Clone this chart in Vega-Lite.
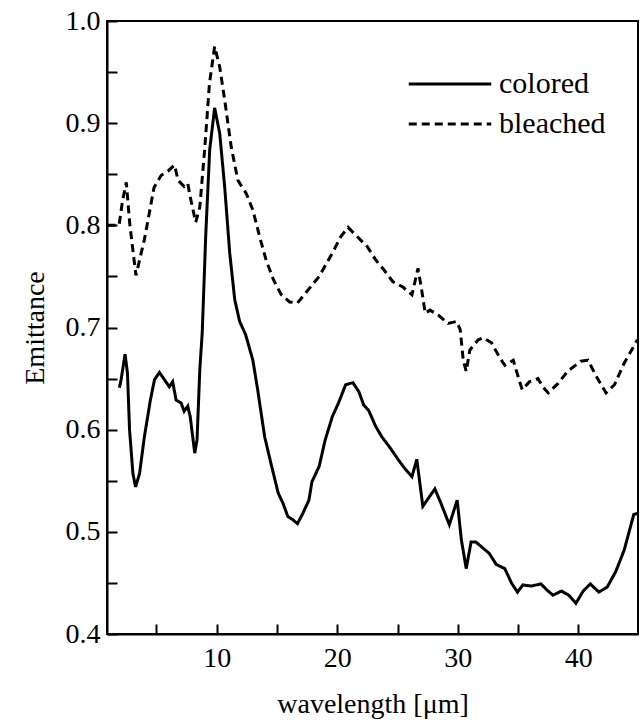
{
  "$schema": "https://vega.github.io/schema/vega-lite/v6.json",
  "width": 531,
  "height": 613,
  "autosize": {"type": "none"},
  "padding": {"left": 107, "top": 21, "right": 3, "bottom": 89},
  "background": "white",
  "config": {"view": {"stroke": "black", "strokeWidth": 2}, "font": "Liberation Serif"},
  "data": {"values": [
    {"s":"colored","x":1.93,"y":0.641},{"s":"colored","x":2.07,"y":0.649},{"s":"colored","x":2.4,"y":0.674},{"s":"colored","x":2.6,"y":0.655},{"s":"colored","x":2.77,"y":0.600},{"s":"colored","x":3.05,"y":0.557},{"s":"colored","x":3.27,"y":0.544},{"s":"colored","x":3.6,"y":0.557},{"s":"colored","x":4.0,"y":0.593},{"s":"colored","x":4.5,"y":0.629},{"s":"colored","x":4.84,"y":0.649},{"s":"colored","x":5.25,"y":0.656},{"s":"colored","x":5.66,"y":0.649},{"s":"colored","x":6.07,"y":0.642},{"s":"colored","x":6.35,"y":0.647},{"s":"colored","x":6.63,"y":0.629},{"s":"colored","x":7.05,"y":0.626},{"s":"colored","x":7.3,"y":0.618},{"s":"colored","x":7.6,"y":0.623},{"s":"colored","x":7.8,"y":0.613},{"s":"colored","x":8.18,"y":0.577},{"s":"colored","x":8.37,"y":0.590},{"s":"colored","x":8.6,"y":0.659},{"s":"colored","x":8.8,"y":0.695},{"s":"colored","x":9.1,"y":0.793},{"s":"colored","x":9.42,"y":0.874},{"s":"colored","x":9.83,"y":0.915},{"s":"colored","x":10.25,"y":0.890},{"s":"colored","x":10.66,"y":0.838},{"s":"colored","x":11.08,"y":0.773},{"s":"colored","x":11.5,"y":0.727},{"s":"colored","x":11.9,"y":0.706},{"s":"colored","x":12.4,"y":0.693},{"s":"colored","x":13.0,"y":0.668},{"s":"colored","x":13.4,"y":0.639},{"s":"colored","x":13.98,"y":0.593},{"s":"colored","x":14.5,"y":0.567},{"s":"colored","x":15.1,"y":0.538},{"s":"colored","x":15.5,"y":0.528},{"s":"colored","x":15.9,"y":0.515},{"s":"colored","x":16.3,"y":0.512},{"s":"colored","x":16.7,"y":0.508},{"s":"colored","x":17.1,"y":0.517},{"s":"colored","x":17.65,"y":0.531},{"s":"colored","x":17.9,"y":0.549},{"s":"colored","x":18.5,"y":0.564},{"s":"colored","x":19.0,"y":0.590},{"s":"colored","x":19.6,"y":0.613},{"s":"colored","x":20.1,"y":0.626},{"s":"colored","x":20.7,"y":0.644},{"s":"colored","x":21.3,"y":0.646},{"s":"colored","x":21.8,"y":0.637},{"s":"colored","x":22.2,"y":0.624},{"s":"colored","x":22.6,"y":0.619},{"s":"colored","x":23.2,"y":0.603},{"s":"colored","x":23.7,"y":0.593},{"s":"colored","x":24.4,"y":0.582},{"s":"colored","x":25.1,"y":0.570},{"s":"colored","x":25.6,"y":0.562},{"s":"colored","x":26.2,"y":0.554},{"s":"colored","x":26.6,"y":0.571},{"s":"colored","x":27.1,"y":0.525},{"s":"colored","x":28.1,"y":0.542},{"s":"colored","x":28.6,"y":0.528},{"s":"colored","x":29.3,"y":0.507},{"s":"colored","x":29.95,"y":0.531},{"s":"colored","x":30.3,"y":0.492},{"s":"colored","x":30.7,"y":0.464},{"s":"colored","x":31.1,"y":0.490},{"s":"colored","x":31.5,"y":0.490},{"s":"colored","x":32.1,"y":0.484},{"s":"colored","x":32.6,"y":0.479},{"s":"colored","x":33.2,"y":0.468},{"s":"colored","x":33.9,"y":0.464},{"s":"colored","x":34.45,"y":0.450},{"s":"colored","x":34.95,"y":0.441},{"s":"colored","x":35.4,"y":0.448},{"s":"colored","x":36.1,"y":0.447},{"s":"colored","x":36.9,"y":0.449},{"s":"colored","x":37.4,"y":0.443},{"s":"colored","x":37.9,"y":0.438},{"s":"colored","x":38.6,"y":0.442},{"s":"colored","x":39.2,"y":0.438},{"s":"colored","x":39.8,"y":0.430},{"s":"colored","x":40.4,"y":0.442},{"s":"colored","x":41.0,"y":0.449},{"s":"colored","x":41.7,"y":0.441},{"s":"colored","x":42.4,"y":0.446},{"s":"colored","x":43.1,"y":0.461},{"s":"colored","x":43.8,"y":0.482},{"s":"colored","x":44.6,"y":0.517},{"s":"colored","x":44.9,"y":0.518},
    {"s":"bleached","x":0.95,"y":0.800},{"s":"bleached","x":1.9,"y":0.800},{"s":"bleached","x":2.2,"y":0.825},{"s":"bleached","x":2.5,"y":0.842},{"s":"bleached","x":2.8,"y":0.800},{"s":"bleached","x":3.3,"y":0.751},{"s":"bleached","x":4.0,"y":0.786},{"s":"bleached","x":4.8,"y":0.837},{"s":"bleached","x":5.4,"y":0.849},{"s":"bleached","x":5.95,"y":0.853},{"s":"bleached","x":6.5,"y":0.859},{"s":"bleached","x":6.8,"y":0.844},{"s":"bleached","x":7.3,"y":0.838},{"s":"bleached","x":7.6,"y":0.841},{"s":"bleached","x":7.8,"y":0.828},{"s":"bleached","x":8.26,"y":0.803},{"s":"bleached","x":8.6,"y":0.818},{"s":"bleached","x":9.0,"y":0.874},{"s":"bleached","x":9.4,"y":0.939},{"s":"bleached","x":9.83,"y":0.975},{"s":"bleached","x":10.25,"y":0.955},{"s":"bleached","x":10.66,"y":0.923},{"s":"bleached","x":11.2,"y":0.877},{"s":"bleached","x":11.76,"y":0.844},{"s":"bleached","x":12.46,"y":0.831},{"s":"bleached","x":13.0,"y":0.815},{"s":"bleached","x":13.56,"y":0.789},{"s":"bleached","x":14.1,"y":0.766},{"s":"bleached","x":14.7,"y":0.747},{"s":"bleached","x":15.36,"y":0.732},{"s":"bleached","x":16.05,"y":0.725},{"s":"bleached","x":16.7,"y":0.724},{"s":"bleached","x":17.4,"y":0.734},{"s":"bleached","x":18.5,"y":0.750},{"s":"bleached","x":19.6,"y":0.773},{"s":"bleached","x":20.3,"y":0.789},{"s":"bleached","x":20.9,"y":0.798},{"s":"bleached","x":21.65,"y":0.789},{"s":"bleached","x":22.5,"y":0.779},{"s":"bleached","x":23.2,"y":0.766},{"s":"bleached","x":23.9,"y":0.756},{"s":"bleached","x":24.6,"y":0.745},{"s":"bleached","x":25.4,"y":0.740},{"s":"bleached","x":26.2,"y":0.732},{"s":"bleached","x":26.7,"y":0.758},{"s":"bleached","x":27.0,"y":0.737},{"s":"bleached","x":27.3,"y":0.714},{"s":"bleached","x":27.7,"y":0.717},{"s":"bleached","x":28.4,"y":0.712},{"s":"bleached","x":29.2,"y":0.704},{"s":"bleached","x":29.9,"y":0.706},{"s":"bleached","x":30.2,"y":0.698},{"s":"bleached","x":30.45,"y":0.668},{"s":"bleached","x":30.7,"y":0.657},{"s":"bleached","x":31.0,"y":0.678},{"s":"bleached","x":31.7,"y":0.688},{"s":"bleached","x":32.1,"y":0.690},{"s":"bleached","x":32.8,"y":0.685},{"s":"bleached","x":33.5,"y":0.670},{"s":"bleached","x":33.9,"y":0.663},{"s":"bleached","x":34.6,"y":0.668},{"s":"bleached","x":35.0,"y":0.652},{"s":"bleached","x":35.35,"y":0.639},{"s":"bleached","x":35.96,"y":0.647},{"s":"bleached","x":36.65,"y":0.650},{"s":"bleached","x":37.05,"y":0.642},{"s":"bleached","x":37.5,"y":0.636},{"s":"bleached","x":38.3,"y":0.645},{"s":"bleached","x":39.1,"y":0.657},{"s":"bleached","x":40.2,"y":0.667},{"s":"bleached","x":40.8,"y":0.668},{"s":"bleached","x":41.5,"y":0.652},{"s":"bleached","x":42.3,"y":0.636},{"s":"bleached","x":43.0,"y":0.644},{"s":"bleached","x":43.8,"y":0.665},{"s":"bleached","x":44.9,"y":0.688}
  ]},
  "mark": {"type": "line", "strokeWidth": 3, "color": "black", "clip": true, "strokeCap": "butt"},
  "encoding": {
    "x": {
      "field": "x", "type": "quantitative",
      "scale": {"domain": [0.9, 44.95], "nice": false, "zero": false},
      "axis": {
        "values": [5, 10, 15, 20, 25, 30, 35, 40],
        "labelExpr": "datum.value % 10 == 0 ? datum.label : ''",
        "ticks": true,
        "tickSize": -10,
        "encode": {"ticks": {"update": {"y2": {"signal": "datum.value % 10 === 0 ? -10 : -5"}}}},
        "tickColor": "black", "tickWidth": 2,
        "domainColor": "black", "domainWidth": 2,
        "labelFontSize": 28, "labelFont": "Liberation Serif", "labelColor": "black",
        "labelPadding": 20, "labelFlush": false, "labelOverlap": false,
        "title": "wavelength [μm]", "titleFontSize": 28, "titleFont": "Liberation Serif",
        "titleFontWeight": "normal", "titleColor": "black", "titlePadding": 18,
        "grid": false
      }
    },
    "y": {
      "field": "y", "type": "quantitative",
      "scale": {"domain": [0.4, 1.0], "nice": false, "zero": false},
      "axis": {
        "values": [0.4, 0.45, 0.5, 0.55, 0.6, 0.65, 0.7, 0.75, 0.8, 0.85, 0.9, 0.95, 1.0],
        "labelExpr": "abs(datum.value*10 - round(datum.value*10)) < 0.001 ? format(datum.value, '.1f') : ''",
        "ticks": true,
        "tickSize": -10,
        "encode": {"ticks": {"update": {"x2": {"signal": "abs(datum.value*10 - round(datum.value*10)) < 0.001 ? 10 : 5"}}}},
        "tickColor": "black", "tickWidth": 2,
        "domainColor": "black", "domainWidth": 2,
        "labelFontSize": 28, "labelFont": "Liberation Serif", "labelColor": "black",
        "labelPadding": 17, "labelFlush": false, "labelOverlap": false,
        "title": "Emittance", "titleFontSize": 28, "titleFont": "Liberation Serif",
        "titleFontWeight": "normal", "titleColor": "black", "titlePadding": 16,
        "grid": false
      }
    },
    "strokeDash": {
      "field": "s", "type": "nominal",
      "scale": {"domain": ["colored", "bleached"], "range": [[1, 0], [8, 5]]},
      "legend": {
        "orient": "none", "legendX": 325, "legendY": 45, "title": null,
        "symbolType": "M-2.5,0H2.5", "symbolSize": 1089, "symbolStrokeWidth": 3,
        "symbolStrokeColor": "black", "symbolFillColor": "transparent",
        "labelFontSize": 30, "labelFont": "Liberation Serif", "labelColor": "black",
        "labelOffset": 31, "rowPadding": 7
      }
    }
  }
}
